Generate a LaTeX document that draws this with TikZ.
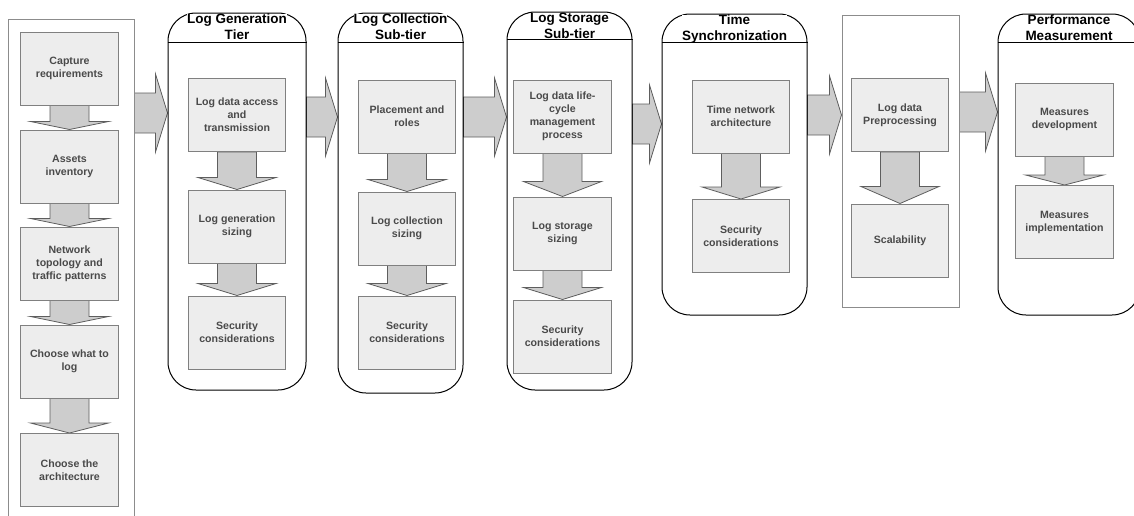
\documentclass[tikz,border=0pt]{standalone}
\usepackage{fontspec}
\setmainfont{Liberation Sans}
\usetikzlibrary{calc,backgrounds}

\definecolor{boxfill}{HTML}{EDEDED}
\definecolor{boxline}{HTML}{808080}
\definecolor{arrowfill}{HTML}{CDCDCD}
\definecolor{arrowline}{HTML}{5E5E5E}
\definecolor{boxtext}{HTML}{4A4A4A}
\definecolor{plainline}{HTML}{8C8C8C}

\tikzset{
  stepbox/.style={draw=boxline, fill=boxfill, line width=1pt,
    minimum width=97.5pt, minimum height=73pt, inner sep=2pt,
    align=center, text=boxtext, font=\bfseries\fontsize{10.6}{13}\selectfont},
  tierframe/.style={draw=black, line width=1pt, rounded corners=28pt, inner sep=0pt},
  plainframe/.style={draw=plainline, line width=1pt, inner sep=0pt},
  tiertitle/.style={anchor=north, yshift=-1.5pt, inner sep=0pt, fill=white, align=center,
    font=\bfseries\fontsize{13.5}{16}\selectfont},
  headerline/.style={draw=black, line width=1pt},
  blockarrow/.style={draw=arrowline, fill=arrowfill, line width=0.8pt},
}

% wide downward arrow from one step box to the next (#1 = head length)
\newcommand\stepdown[3][12]{%
  \begin{pgfonlayer}{background}
  \path[blockarrow] ($(#2.south)+(-19.5,0)$) -- ($(#2.south)+(19.5,0)$)
    -- ($(#3.north)+(19.5,-#1)$) -- ($(#3.north)+(39,-#1)$) -- (#3.north)
    -- ($(#3.north)+(-39,-#1)$) -- ($(#3.north)+(-19.5,-#1)$) -- cycle;
  \end{pgfonlayer}}

% wide arrow from one tier frame to the next, shaft centred at height #3
\newcommand\tierright[3]{%
  \begin{pgfonlayer}{background}
  \path[blockarrow] (#1.east |- 0,#3-20) -- ($(#2.west |- 0,#3)+(-12,-20)$)
    -- ($(#2.west |- 0,#3)+(-12,-39)$) -- (#2.west |- 0,#3)
    -- ($(#2.west |- 0,#3)+(-12,39)$) -- ($(#2.west |- 0,#3)+(-12,20)$)
    -- (#1.east |- 0,#3+20) -- cycle;
  \end{pgfonlayer}}

\begin{document}
\begin{tikzpicture}[x=1pt, y=-1pt]
\useasboundingbox (0,0) rectangle (1134,515);
\clip (0,0) rectangle (1134,515);

% ---------- frames ----------
\node[plainframe, minimum width=126pt, minimum height=520pt] (plan) at (71,279) {};
\node[tierframe, minimum width=138pt, minimum height=377pt] (gen)  at (237,201.5) {};
\node[tierframe, minimum width=125pt, minimum height=380pt] (col)  at (400.5,203) {};
\node[tierframe, minimum width=125pt, minimum height=378pt] (sto)  at (569.5,201) {};
\node[tierframe, minimum width=145pt, minimum height=301pt] (sync) at (734.5,164.5) {};
\node[plainframe, minimum width=117pt, minimum height=292pt] (pre) at (900.5,161) {};
\node[tierframe, minimum width=142pt, minimum height=301pt] (perf) at (1069,164.5) {};

% titles
\node[tiertitle] (tgen)  at (gen.north)  {Log Generation\\Tier};
\node[tiertitle] (tcol)  at (col.north)  {Log Collection\\Sub-tier};
\node[tiertitle] (tsto)  at (sto.north)  {Log Storage\\Sub-tier};
\node[tiertitle] (tsync) at (sync.north) {Time\\Synchronization};
\node[tiertitle] (tperf) at (perf.north) {Performance\\Measurement};

% header separators
\draw[headerline] (gen.west |- 0,42)  -- (gen.east |- 0,42);
\draw[headerline] (col.west |- 0,42)  -- (col.east |- 0,42);
\draw[headerline] (sto.west |- 0,39)  -- (sto.east |- 0,39);
\draw[headerline] (sync.west |- 0,42) -- (sync.east |- 0,42);
\draw[headerline] (perf.west |- 0,42) -- (perf.east |- 0,42);

% ---------- planning steps ----------
\node[stepbox] (p1) at (69.5,68.5)  {Capture\\requirements};
\node[stepbox] (p2) at (69.5,166.5) {Assets\\inventory};
\node[stepbox] (p3) at (69.5,263.5) {Network\\topology and\\traffic patterns};
\node[stepbox] (p4) at (69.5,361.5) {Choose what to\\log};
\node[stepbox] (p5) at (69.5,470)   {Choose the\\architecture};
\stepdown[8]{p1}{p2}
\stepdown[8]{p2}{p3}
\stepdown[8]{p3}{p4}
\stepdown[10]{p4}{p5}

% ---------- log generation tier ----------
\node[stepbox] (g1) at (237,115)   {Log data access\\and\\transmission};
\node[stepbox] (g2) at (237,226.5) {Log generation\\sizing};
\node[stepbox] (g3) at (237,332.5) {Security\\considerations};
\stepdown{g1}{g2}
\stepdown{g2}{g3}

% ---------- log collection sub-tier ----------
\node[stepbox] (c1) at (407,116.5) {Placement and\\roles};
\node[stepbox] (c2) at (407,228.5) {Log collection\\sizing};
\node[stepbox] (c3) at (407,332.5) {Security\\considerations};
\stepdown{c1}{c2}
\stepdown{c2}{c3}

% ---------- log storage sub-tier ----------
\node[stepbox] (s1) at (562.5,116.5) {Log data life-\\cycle\\management\\process};
\node[stepbox] (s2) at (562.5,233.5) {Log storage\\sizing};
\node[stepbox] (s3) at (562.5,336.5) {Security\\considerations};
\stepdown[15]{s1}{s2}
\stepdown{s2}{s3}

% ---------- time synchronization ----------
\node[stepbox] (t1) at (741,116.5) {Time network\\architecture};
\node[stepbox] (t2) at (741,236)   {Security\\considerations};
\stepdown{t1}{t2}

% ---------- preprocessing ----------
\node[stepbox] (r1) at (900,115)   {Log data\\Preprocessing};
\node[stepbox] (r2) at (900,240.5) {Scalability};
\stepdown[17]{r1}{r2}

% ---------- performance measurement ----------
\node[stepbox] (m1) at (1064.5,119.5) {Measures\\development};
\node[stepbox] (m2) at (1064.5,222)   {Measures\\implementation};
\stepdown[10]{m1}{m2}

% ---------- flow between tiers ----------
\tierright{plan}{gen}{113}
\tierright{gen}{col}{117}
\tierright{col}{sto}{117}
\tierright{sto}{sync}{124}
\tierright{sync}{pre}{115}
\tierright{pre}{perf}{112}
\end{tikzpicture}
\end{document}
